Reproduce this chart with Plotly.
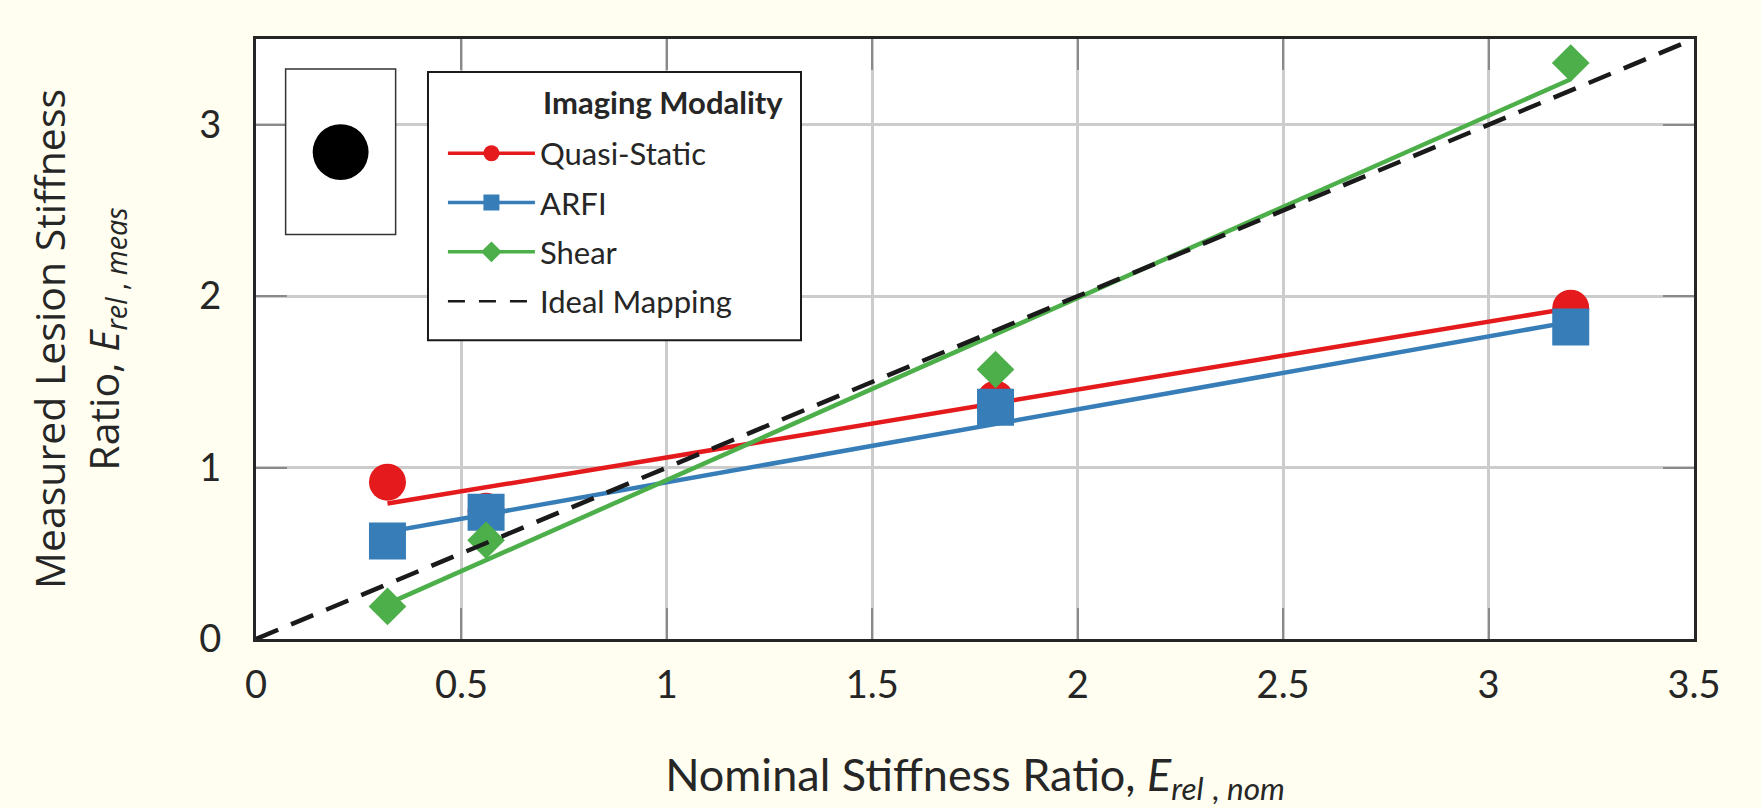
import plotly.graph_objects as go

# ---- data ----
x_nominal = [0.32, 0.56, 1.8, 3.2]
quasi_static = [0.915, 0.745, 1.40, 1.93]
arfi = [0.572, 0.739, 1.352, 1.82]
shear = [0.19, 0.576, 1.572, 3.36]

fit_x = [0.32, 3.2]
quasi_fit = [0.79, 1.93]
arfi_fit = [0.625, 1.85]
shear_fit = [0.205, 3.265]

ideal_x = [0, 3.5]
ideal_y = [0, 3.5]

series_names = ["Quasi-Static", "ARFI", "Shear"]
legend_title = "Imaging Modality"
x_ticks = [0, 0.5, 1, 1.5, 2, 2.5, 3, 3.5]
x_tick_labels = ["0", "0.5", "1", "1.5", "2", "2.5", "3", "3.5"]
y_ticks = [0, 1, 2, 3]
y_tick_labels = ["0", "1", "2", "3"]

# ---- styles ----
RED = "#E41A1C"
BLUE = "#377EB8"
GREEN = "#4DAF4A"
BG = "#FFFEF0"
FONT = "Lato"
TXT = "#262626"

fig = go.Figure()

series = [
    (series_names[0], quasi_static, quasi_fit, RED, "circle", 37),
    (series_names[1], arfi, arfi_fit, BLUE, "square", 37),
    (series_names[2], shear, shear_fit, GREEN, "diamond", 29),
]

for name, yv, fy, col, sym, size in series:
    fig.add_trace(go.Scatter(x=x_nominal, y=yv, mode="markers", name=name,
                             marker=dict(color=col, symbol=sym, size=size, line=dict(width=0)),
                             showlegend=False, cliponaxis=False))
    fig.add_trace(go.Scatter(x=fit_x, y=fy, mode="lines", name=name,
                             line=dict(color=col, width=4.5), showlegend=False))

fig.add_trace(go.Scatter(x=ideal_x, y=ideal_y, mode="lines", name="Ideal Mapping",
                         line=dict(color="#1a1a1a", width=4.5, dash="24px,14px"),
                         showlegend=False))

# legend entries (line + marker samples)
for i, (name, yv, fy, col, sym, size) in enumerate(series):
    fig.add_trace(go.Scatter(x=[None], y=[None], mode="lines+markers", name=name,
                             legendgroup="g%d" % i,
                             line=dict(color=col, width=3.5),
                             marker=dict(color=col, symbol=sym, size=16)))
fig.add_trace(go.Scatter(x=[None], y=[None], mode="lines", name="Ideal Mapping",
                         legendgroup="g3",
                         line=dict(color="#1a1a1a", width=2.5, dash="17px,14px")))

axis_common = dict(
    showline=True, linecolor=TXT, linewidth=3, mirror="all",
    showgrid=True, gridcolor="#CCCCCC", gridwidth=2.5,
    ticks="inside", ticklen=31, tickwidth=2, tickcolor="#8a8a8a",
    zeroline=False, tickfont=dict(family=FONT, size=38, color=TXT),
)

fig.update_layout(
    width=1761, height=808,
    paper_bgcolor=BG, plot_bgcolor="white",
    margin=dict(l=256, r=67, t=39, b=169),
    font=dict(family=FONT, color=TXT),
    xaxis=dict(range=[0, 3.5], tickvals=x_ticks, ticktext=x_tick_labels,
               ticklabelstandoff=10,
               title=dict(text="Nominal Stiffness Ratio, <i>E</i><sub><i>rel</i> , <i>nom</i></sub>",
                          font=dict(family=FONT, size=45, color=TXT), standoff=55),
               **axis_common),
    yaxis=dict(range=[0, 3.5], tickvals=y_ticks, ticktext=y_tick_labels,
               ticklabelstandoff=24,
               title=dict(text="Measured Lesion Stiffness<br>Ratio, <i>E</i><sub><i>rel</i> , <i>meas</i></sub>",
                          font=dict(family="Open Sans", size=41, color=TXT), standoff=68),
               **axis_common),
    legend=dict(
        x=0.13, y=0.854, xanchor="left", yanchor="top",
        bgcolor="rgba(0,0,0,0)", borderwidth=0,
        font=dict(family=FONT, size=31, color=TXT),
        itemwidth=87, tracegroupgap=6, traceorder="grouped",
    ),
    annotations=[
        dict(text="<b>%s</b>" % legend_title, xref="x domain", yref="y domain",
             x=0.198, y=0.895, xanchor="left", yanchor="middle", showarrow=False,
             font=dict(family=FONT, size=31, color=TXT)),
    ],
    shapes=[
        # legend frame
        dict(type="rect", xref="x domain", yref="y domain",
             x0=0.1196, x1=0.379, y0=0.498, y1=0.945,
             line=dict(color="#1a1a1a", width=2), fillcolor="white", layer="above"),
        # inset illustration
        dict(type="rect", xref="x domain", yref="y domain",
             x0=0.0206, x1=0.0971, y0=0.674, y1=0.95,
             line=dict(color="#333333", width=1.5), fillcolor="white", layer="above"),
        dict(type="circle", xref="x domain", yref="y domain",
             x0=0.0394, x1=0.0783, y0=0.765, y1=0.858,
             line=dict(color="black", width=0), fillcolor="black", layer="above"),
    ],
)

fig.write_html(
    "out.html",
    config={"displayModeBar": False},
    post_script="document.body.style.margin='0';document.body.style.background='%s';" % BG,
)
